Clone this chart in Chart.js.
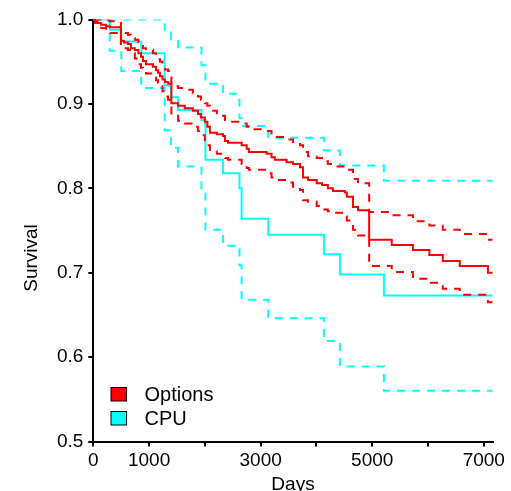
<!DOCTYPE html>
<html><head><meta charset="utf-8">
<script src="https://cdn.jsdelivr.net/npm/chart.js@4/dist/chart.umd.min.js"></script>
<style>html,body{margin:0;padding:0;background:#fff;overflow:hidden;} #wrap{width:511px;height:491px;}</style>
</head><body><div id="wrap"><canvas id="c" width="511" height="491"></canvas></div>
<script>
// ---- data ----
const seriesNames = ['Options', 'CPU'];
const seriesColors = ['#ff0000', '#00ffff'];

const optTimes = [30, 75, 140, 230, 300, 495, 550, 620, 675, 745, 810, 855, 890, 945, 1070, 1125, 1160, 1195, 1240, 1285, 1340, 1400, 1520, 1640, 1785, 1875, 1930, 2000, 2045, 2090, 2215, 2325, 2360, 2415, 2660, 2750, 2790, 3105, 3195, 3255, 3465, 3580, 3705, 3760, 3850, 4005, 4100, 4205, 4295, 4510, 4545, 4655, 4745, 4945, 5350, 5730, 6025, 6265, 6570, 7075];
const optSurv = [0.998, 0.996, 0.994, 0.992, 0.991, 0.975, 0.973, 0.971, 0.966, 0.964, 0.960, 0.956, 0.951, 0.947, 0.944, 0.940, 0.937, 0.933, 0.929, 0.926, 0.924, 0.901, 0.898, 0.895, 0.892, 0.888, 0.884, 0.879, 0.873, 0.866, 0.864, 0.862, 0.856, 0.854, 0.851, 0.847, 0.843, 0.841, 0.837, 0.834, 0.831, 0.829, 0.825, 0.813, 0.810, 0.806, 0.804, 0.800, 0.797, 0.795, 0.790, 0.778, 0.774, 0.739, 0.733, 0.727, 0.721, 0.714, 0.708, 0.700];
const optUpper = [1.000, 1.000, 1.000, 0.999, 0.998, 0.986, 0.984, 0.982, 0.978, 0.976, 0.973, 0.970, 0.966, 0.964, 0.960, 0.957, 0.953, 0.950, 0.946, 0.941, 0.939, 0.921, 0.919, 0.917, 0.913, 0.909, 0.905, 0.901, 0.898, 0.892, 0.889, 0.886, 0.881, 0.879, 0.877, 0.873, 0.870, 0.868, 0.863, 0.861, 0.858, 0.855, 0.851, 0.843, 0.838, 0.836, 0.832, 0.829, 0.826, 0.825, 0.822, 0.811, 0.806, 0.772, 0.768, 0.761, 0.756, 0.751, 0.746, 0.739];
const optLower = [0.996, 0.993, 0.990, 0.986, 0.984, 0.968, 0.966, 0.964, 0.960, 0.954, 0.947, 0.943, 0.939, 0.936, 0.933, 0.928, 0.925, 0.921, 0.915, 0.909, 0.905, 0.886, 0.880, 0.877, 0.873, 0.868, 0.863, 0.857, 0.851, 0.844, 0.841, 0.839, 0.836, 0.834, 0.829, 0.824, 0.822, 0.818, 0.813, 0.810, 0.807, 0.802, 0.798, 0.786, 0.784, 0.779, 0.775, 0.773, 0.771, 0.767, 0.762, 0.751, 0.744, 0.708, 0.701, 0.693, 0.688, 0.681, 0.674, 0.665];

const cpuTimes = [294, 502, 860, 1280, 1392, 1518, 1939, 2011, 2324, 2620, 2659, 3136, 4134, 4421, 5210];
const cpuSurv  = [0.988, 0.974, 0.960, 0.922, 0.908, 0.893, 0.881, 0.834, 0.818, 0.800, 0.764, 0.745, 0.722, 0.698, 0.673];
const cpuUpper = [1.000, 1.000, 1.000, 0.985, 0.976, 0.967, 0.946, 0.924, 0.912, 0.883, 0.874, 0.860, 0.845, 0.827, 0.809];
const cpuLower = [0.963, 0.939, 0.919, 0.869, 0.848, 0.826, 0.798, 0.751, 0.732, 0.709, 0.668, 0.646, 0.619, 0.589, 0.560];

const followUpEnd = 7160;
const xTickValues = [0, 1000, 2000, 3000, 4000, 5000, 6000, 7000];
const xTickLabels = ['0', '1000', '', '3000', '', '5000', '', '7000'];
const yTickValues = [0.5, 0.6, 0.7, 0.8, 0.9, 1.0];
const yTickLabels = ['0.5', '0.6', '0.7', '0.8', '0.9', '1.0'];
const xTitle = 'Days';
const yTitle = 'Survival';

// ---- build step curves ----
function steps(times, vals) {
  const pts = [{x: 0, y: 1}];
  times.forEach((t, i) => pts.push({x: t, y: vals[i]}));
  pts.push({x: followUpEnd, y: vals[vals.length - 1]});
  return pts;
}
function ds(data, color, dashed) {
  return {data, borderColor: color, borderWidth: 2, stepped: 'before', fill: false,
          pointRadius: 0, borderDash: dashed ? [8, 7] : [], borderCapStyle: 'butt'};
}
const FONT = "'Liberation Sans', Arial, Helvetica, sans-serif";

const extras = {
  id: 'extras',
  afterDraw(chart) {
    const ctx = chart.ctx;
    ctx.save();
    ctx.fillStyle = '#000';
    ctx.font = '19px ' + FONT;
    ctx.textAlign = 'center';
    ctx.textBaseline = 'alphabetic';
    const a = chart.chartArea;
    ctx.fillText(xTitle, (a.left + a.right) / 2, 489.5);
    ctx.translate(37, 258);
    ctx.rotate(-Math.PI / 2);
    ctx.fillText(yTitle, 0, 0);
    ctx.restore();
    // legend
    ctx.save();
    ctx.font = '20px ' + FONT;
    ctx.textAlign = 'left';
    ctx.textBaseline = 'alphabetic';
    seriesNames.forEach((n, i) => {
      const y = 387.5 + i * 24;
      ctx.fillStyle = seriesColors[i];
      ctx.fillRect(111, y, 15.5, 13.5);
      ctx.strokeStyle = '#000';
      ctx.lineWidth = 1;
      ctx.strokeRect(111, y, 15.5, 13.5);
      ctx.fillStyle = '#000';
      ctx.fillText(n, 144.5, y + 13.5);
    });
    ctx.restore();
  }
};

new Chart(document.getElementById('c'), {
  type: 'line',
  data: {
    datasets: [
      ds(steps(optTimes, optSurv), seriesColors[0], false),
      ds(steps(optTimes, optUpper), seriesColors[0], true),
      ds(steps(optTimes, optLower), seriesColors[0], true),
      ds(steps(cpuTimes, cpuSurv), seriesColors[1], false),
      ds(steps(cpuTimes, cpuUpper), seriesColors[1], true),
      ds(steps(cpuTimes, cpuLower), seriesColors[1], true)
    ]
  },
  options: {
    responsive: false,
    animation: false,
    devicePixelRatio: 1,
    layout: {padding: {left: 0, right: 18.3, top: 19.6, bottom: 0}},
    plugins: {legend: {display: false}, tooltip: {enabled: false}},
    scales: {
      x: {
        type: 'linear', min: 0, max: followUpEnd,
        afterFit: s => { s.height = 49.5; },
        afterBuildTicks: s => { s.ticks = xTickValues.map(v => ({value: v})); },
        ticks: {autoSkip: false, maxRotation: 0, padding: 3, color: '#000',
                font: {family: FONT, size: 19}, callback: (v, i) => xTickLabels[i]},
        grid: {drawOnChartArea: false, drawTicks: true, tickLength: 5, color: '#000', lineWidth: 2},
        border: {display: true, color: '#000', width: 2}
      },
      y: {
        type: 'linear', min: 0.5, max: 1.0,
        afterFit: s => { s.width = 93.3; },
        afterBuildTicks: s => { s.ticks = yTickValues.map(v => ({value: v})); },
        ticks: {autoSkip: false, padding: 5, color: '#000',
                font: {family: FONT, size: 19}, callback: (v, i) => yTickLabels[i]},
        grid: {drawOnChartArea: false, drawTicks: true, tickLength: 5, color: '#000', lineWidth: 2},
        border: {display: true, color: '#000', width: 2}
      }
    }
  },
  plugins: [extras]
});
</script></body></html>
